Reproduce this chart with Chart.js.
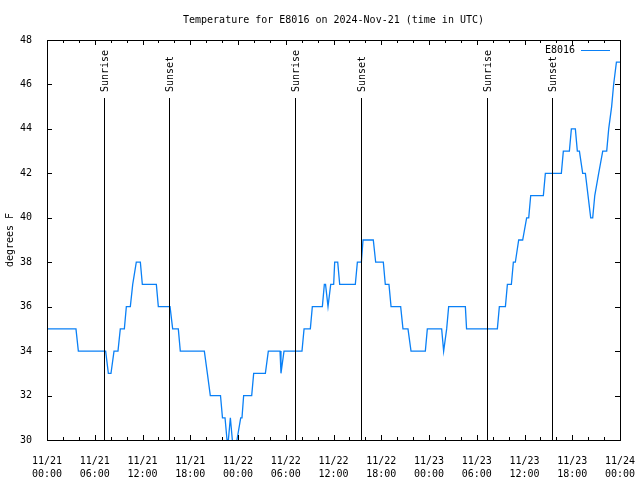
<!DOCTYPE html>
<html>
<head>
<meta charset="utf-8">
<script src="https://cdn.jsdelivr.net/npm/chart.js@4.4.1/dist/chart.umd.min.js"></script>
<style>
  html, body { margin: 0; padding: 0; background: #fff; }
  #wrap { width: 640px; height: 480px; }
</style>
</head>
<body>
<div id="wrap"><canvas id="chart" width="640" height="480"></canvas></div>
<script>
// hours since 11/21 00:00 UTC
const hours = [
  0, 3.64, 3.94, 7.37, 7.71, 8.04, 8.42, 8.92, 9.21, 9.72, 9.97, 10.47, 10.77, 11.22, 11.73, 11.98,
  13.74, 13.99, 15.46, 15.79, 16.5, 16.75, 19.77, 20.15, 20.52, 21.8, 22.05, 22.37, 22.62, 22.79,
  23.04, 23.29, 23.4, 23.75, 23.87, 24.34, 24.5, 24.71, 25.72, 25.97, 27.44, 27.81, 29.28, 29.4,
  29.78, 32.04, 32.3, 33.09, 33.34, 34.6, 34.85, 35.0, 35.31, 35.65, 36.02, 36.15, 36.53, 36.78,
  38.74, 39.0, 39.5, 39.71, 41.0, 41.3, 42.26, 42.51, 42.97, 43.23, 44.44, 44.73, 45.36, 45.74,
  47.54, 47.79, 49.59, 49.84, 50.22, 50.47, 52.57, 52.72, 56.59, 56.84, 57.6, 57.85, 58.35, 58.6,
  58.85, 59.27, 59.77, 60.27, 60.53, 60.78, 62.37, 62.62, 64.63, 64.88, 65.64, 65.89, 66.39, 66.64,
  66.9, 67.31, 67.65, 68.32, 68.57, 68.83, 69.32, 69.83, 70.33, 70.58, 70.95, 71.2, 71.55, 72
];
const temps = [
  35, 35, 34, 34, 33, 33, 34, 34, 35, 35, 36, 36, 37, 38, 38, 37,
  37, 36, 36, 35, 35, 34, 34, 33, 32, 32, 31, 31, 30, 30,
  31, 30, 29, 29, 30, 31, 31, 32, 32, 33, 33, 34, 34, 33,
  34, 34, 35, 35, 36, 36, 37, 37, 36, 37, 37, 38, 38, 37,
  37, 38, 38, 39, 39, 38, 38, 37, 37, 36, 36, 35, 35, 34,
  34, 35, 35, 34, 35, 36, 36, 35, 35, 36, 36, 37, 37, 38,
  38, 39, 39, 40, 40, 41, 41, 42, 42, 43, 43, 44, 44, 43,
  43, 42, 42, 40, 40, 41, 42, 43, 43, 44, 45, 46, 47, 47
];
const sunrise = [7.2, 31.2, 55.33];
const sunset = [15.37, 39.5, 63.5];
const dayLabels = ["11/21", "11/22", "11/23", "11/24"];
const seriesName = "E8016";
const titleText = "Temperature for E8016 on 2024-Nov-21 (time in UTC)";

const FONT = "'DejaVu Sans Mono', 'Liberation Mono', monospace";
const LINE_COLOR = "#0a80f6";

// frame, inside ticks, sunrise/sunset markers, legend and title
const decor = {
  id: "decor",
  afterDatasetsDraw(chart) {
    const ctx = chart.ctx;
    const { left, right, top, bottom } = chart.chartArea;
    const x = chart.scales.x, y = chart.scales.y;
    ctx.save();
    ctx.strokeStyle = "#000";
    ctx.lineWidth = 1;

    // ticks
    ctx.beginPath();
    for (let h = 0; h <= 72; h += 2) {
      const px = Math.round(x.getPixelForValue(h)) + 0.5;
      const len = h % 6 === 0 ? 5 : 3;
      ctx.moveTo(px, bottom); ctx.lineTo(px, bottom - len);
      ctx.moveTo(px, top); ctx.lineTo(px, top + len);
    }
    for (let v = 30; v <= 48; v += 2) {
      const py = Math.round(y.getPixelForValue(v)) + 0.5;
      ctx.moveTo(left, py); ctx.lineTo(left + 5, py);
      ctx.moveTo(right, py); ctx.lineTo(right - 5, py);
    }
    ctx.stroke();

    // sun markers
    ctx.fillStyle = "#000";
    ctx.font = "10px " + FONT;
    const marks = sunrise.map(h => [h, "Sunrise"]).concat(sunset.map(h => [h, "Sunset"]));
    marks.forEach(([h, label]) => {
      const px = Math.round(x.getPixelForValue(h)) + 0.5;
      ctx.beginPath();
      ctx.moveTo(px, 98); ctx.lineTo(px, bottom);
      ctx.stroke();
      ctx.save();
      ctx.translate(px + 1, 92);
      ctx.rotate(-Math.PI / 2);
      ctx.textAlign = "left";
      ctx.textBaseline = "middle";
      ctx.fillText(label, 0, 0);
      ctx.restore();
    });

    // frame
    ctx.strokeRect(Math.round(left) + 0.5, Math.round(top) + 0.5,
      Math.round(right - left), Math.round(bottom - top));

    // legend
    ctx.textAlign = "right";
    ctx.textBaseline = "middle";
    ctx.fillText(seriesName, 575, 50);
    ctx.strokeStyle = LINE_COLOR;
    ctx.beginPath();
    ctx.moveTo(581, 50.5); ctx.lineTo(610, 50.5);
    ctx.stroke();

    // title
    ctx.textAlign = "center";
    ctx.fillText(titleText, (left + right) / 2, 20);
    ctx.restore();
  }
};

new Chart(document.getElementById("chart"), {
  type: "line",
  data: {
    datasets: [{
      label: seriesName,
      data: hours.map((h, i) => ({ x: h, y: temps[i] })),
      borderColor: LINE_COLOR,
      borderWidth: 1.3,
      pointRadius: 0,
      tension: 0,
      fill: false
    }]
  },
  options: {
    responsive: false,
    animation: false,
    layout: { padding: { top: 40, right: 20, left: 0, bottom: 0 } },
    plugins: { legend: { display: false }, title: { display: false }, tooltip: { enabled: false } },
    scales: {
      x: {
        type: "linear",
        min: 0, max: 72,
        grid: { display: false },
        border: { display: false },
        afterFit: s => { s.height = 40; s.paddingLeft = 0; s.paddingRight = 0; },
        ticks: {
          stepSize: 6,
          autoSkip: false,
          maxRotation: 0,
          padding: 7,
          color: "#000",
          font: { family: FONT, size: 10, lineHeight: 1.3 },
          callback: v => {
            const d = Math.floor(v / 24);
            const hh = String(v % 24).padStart(2, "0");
            return [dayLabels[d], hh + ":00"];
          }
        }
      },
      y: {
        min: 30, max: 48,
        grid: { display: false },
        border: { display: false },
        afterFit: s => { s.width = 47; s.paddingTop = 0; s.paddingBottom = 0; },
        title: {
          display: true,
          text: "degrees F",
          color: "#000",
          font: { family: FONT, size: 10 },
          padding: { top: 4, bottom: 0 }
        },
        ticks: {
          stepSize: 2,
          padding: 7,
          color: "#000",
          font: { family: FONT, size: 10 }
        }
      }
    }
  },
  plugins: [decor]
});
</script>
</body>
</html>
